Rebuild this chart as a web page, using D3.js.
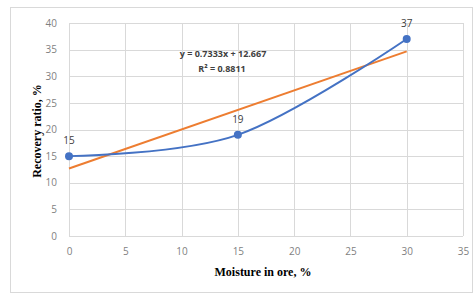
<!DOCTYPE html>
<html>
<head>
<meta charset="utf-8">
<script src="https://cdn.jsdelivr.net/npm/d3@7"></script>
<style>
  body { margin: 0; background: #fff; }
  svg { display: block; }
</style>
</head>
<body>
<svg id="chart"></svg>
<script>
// data
const moisture = [0, 15, 30];
const recovery = [15, 19, 37];
const trendSlope = 0.7333;
const trendIntercept = 12.667;
const trendRange = [0, 30];
const xTicks = [0, 5, 10, 15, 20, 25, 30, 35];
const yTicks = [0, 5, 10, 15, 20, 25, 30, 35, 40];
const equationLines = ['y = 0.7333x + 12.667', 'R² = 0.8811'];

const width = 475, height = 295;
const margin = {top: 23, right: 12, bottom: 59, left: 69};
const innerWidth = width - margin.left - margin.right;
const innerHeight = height - margin.top - margin.bottom;

const svg = d3.select('#chart')
    .attr('width', width)
    .attr('height', height);

// outer frame
svg.append('rect')
    .attr('x', 10.5).attr('y', 7.5)
    .attr('width', 462).attr('height', 285)
    .attr('fill', '#fff')
    .attr('stroke', '#d9d9d9');

const xScale = d3.scaleLinear().domain([0, 35]).range([0, innerWidth]);
const yScale = d3.scaleLinear().domain([0, 40]).range([innerHeight, 0]);

const g = svg.append('g')
    .attr('transform', `translate(${margin.left}, ${margin.top})`);

// grid
g.append('g')
    .selectAll('line')
    .data(yTicks)
    .enter()
    .append('line')
    .attr('x1', 0).attr('x2', innerWidth)
    .attr('y1', d => Math.round(yScale(d)) + 0.5)
    .attr('y2', d => Math.round(yScale(d)) + 0.5)
    .attr('stroke', '#d9d9d9');

g.append('g')
    .selectAll('line')
    .data(xTicks)
    .enter()
    .append('line')
    .attr('y1', 0).attr('y2', innerHeight)
    .attr('x1', d => Math.round(xScale(d)) + 0.5)
    .attr('x2', d => Math.round(xScale(d)) + 0.5)
    .attr('stroke', '#d9d9d9');

// axes (labels only)
const xAxis = g.append('g')
    .attr('transform', `translate(0, ${innerHeight})`)
    .call(d3.axisBottom(xScale).tickValues(xTicks).tickSize(0).tickPadding(12));
const yAxis = g.append('g')
    .call(d3.axisLeft(yScale).tickValues(yTicks).tickSize(0).tickPadding(12));

[xAxis, yAxis].forEach(a => {
    a.select('.domain').remove();
    a.selectAll('text')
        .attr('fill', '#7f7f7f')
        .style('font-family', 'Open Sans, sans-serif')
        .style('font-size', '10px');
});

// trendline
const trendData = trendRange.map(x => ({x: x, y: trendSlope * x + trendIntercept}));
g.append('path')
    .datum(trendData)
    .attr('fill', 'none')
    .attr('stroke', '#ed7d31')
    .attr('stroke-width', 2)
    .attr('d', d3.line().x(d => xScale(d.x)).y(d => yScale(d.y)));

// smoothed series
const points = moisture.map((m, i) => ({x: m, y: recovery[i]}));
g.append('path')
    .datum(points)
    .attr('fill', 'none')
    .attr('stroke', '#4472c4')
    .attr('stroke-width', 2)
    .attr('d', d3.line()
        .x(d => xScale(d.x))
        .y(d => yScale(d.y))
        .curve(d3.curveCardinal.tension(0)));

g.selectAll('.point')
    .data(points)
    .enter()
    .append('circle')
    .attr('cx', d => xScale(d.x))
    .attr('cy', d => yScale(d.y))
    .attr('r', 4)
    .attr('fill', '#4472c4');

g.selectAll('.point-label')
    .data(points)
    .enter()
    .append('text')
    .attr('x', d => xScale(d.x))
    .attr('y', d => yScale(d.y) - 12)
    .attr('text-anchor', 'middle')
    .attr('fill', '#404040')
    .style('font-family', 'Open Sans, sans-serif')
    .style('font-size', '10px')
    .text(d => d.y);

// equation
g.append('text')
    .attr('x', 154)
    .attr('y', 34)
    .attr('text-anchor', 'middle')
    .attr('fill', '#404040')
    .style('font-family', 'Open Sans, sans-serif')
    .style('font-size', '9px')
    .style('font-weight', 'bold')
    .selectAll('tspan')
    .data(equationLines)
    .enter()
    .append('tspan')
    .attr('x', (d, i) => i === 0 ? 154 : 153)
    .attr('dy', (d, i) => i === 0 ? 0 : 15)
    .text(d => d);

// axis titles
svg.append('text')
    .attr('x', margin.left + innerWidth / 2 - 3)
    .attr('y', 276)
    .attr('text-anchor', 'middle')
    .style('font-family', 'Liberation Serif, serif')
    .style('font-weight', 'bold')
    .style('font-size', '12px')
    .attr('fill', '#000')
    .text('Moisture in ore, %');

svg.append('text')
    .attr('transform', 'rotate(-90)')
    .attr('x', -131)
    .attr('y', 41)
    .attr('text-anchor', 'middle')
    .style('font-family', 'Liberation Serif, serif')
    .style('font-weight', 'bold')
    .style('font-size', '12px')
    .attr('fill', '#000')
    .text('Recovery ratio, %');
</script>
</body>
</html>
